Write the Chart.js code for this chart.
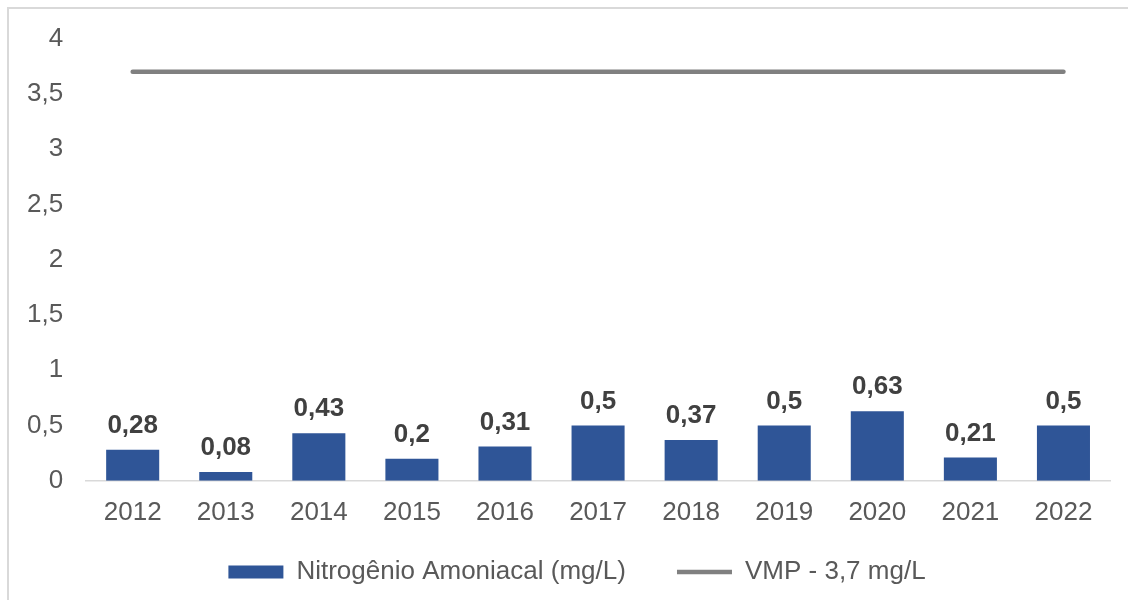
<!DOCTYPE html>
<html>
<head>
<meta charset="utf-8">
<script src="https://cdn.jsdelivr.net/npm/chart.js@4.4.1/dist/chart.umd.min.js"></script>
<style>
  html, body { margin: 0; padding: 0; background: #fff; }
  #wrap { position: relative; width: 1128px; height: 600px; overflow: hidden; }
  #frame { position: absolute; left: 7px; top: 7px; width: 1140px; height: 620px; border: 2px solid #d9d9d9; box-sizing: border-box; }
  canvas { position: absolute; left: 0; top: 0; }
</style>
</head>
<body>
<div id="wrap">
  <div id="frame"></div>
  <canvas id="chart" width="1128" height="600"></canvas>
</div>
<script>
const years = ['2012', '2013', '2014', '2015', '2016', '2017', '2018', '2019', '2020', '2021', '2022'];
const nitrogenio = [0.28, 0.08, 0.43, 0.2, 0.31, 0.5, 0.37, 0.5, 0.63, 0.21, 0.5];
const vmp = [3.7, 3.7, 3.7, 3.7, 3.7, 3.7, 3.7, 3.7, 3.7, 3.7, 3.7];
const seriesNames = ['Nitrogênio Amoniacal (mg/L)', 'VMP - 3,7 mg/L'];

const fmt = (v) => String(v).replace('.', ',');
const FONT = 'Liberation Sans, Arial, sans-serif';

// value labels above the bars
const barLabels = {
  id: 'barLabels',
  afterDatasetsDraw(chart) {
    const ctx = chart.ctx;
    const meta = chart.getDatasetMeta(0);
    ctx.save();
    ctx.font = 'bold 26px ' + FONT;
    ctx.fillStyle = '#404040';
    ctx.textAlign = 'center';
    ctx.textBaseline = 'alphabetic';
    meta.data.forEach((bar, i) => {
      ctx.fillText(fmt(nitrogenio[i]), bar.x, bar.y - 17);
    });
    ctx.restore();
  }
};

// nudge the legend a bit to the right, like the original
const legendShift = {
  id: 'legendShift',
  afterLayout(chart) {
    chart.legend.left += 20;
    chart.legend.right += 20;
  }
};

new Chart(document.getElementById('chart'), {
  data: {
    labels: years,
    datasets: [
      {
        type: 'bar',
        label: seriesNames[0],
        data: nitrogenio,
        backgroundColor: '#2f5597',
        categoryPercentage: 1,
        barPercentage: 0.57,
        pointStyle: 'rect'
      },
      {
        type: 'line',
        label: seriesNames[1],
        data: vmp,
        borderColor: '#808080',
        backgroundColor: '#808080',
        borderWidth: 4.5,
        borderCapStyle: 'round',
        pointRadius: 0,
        pointStyle: 'line'
      }
    ]
  },
  options: {
    responsive: false,
    animation: false,
    layout: { padding: { left: 4, right: 18, top: 37, bottom: 5 } },
    scales: {
      x: {
        grid: { display: false, drawTicks: false },
        border: { color: '#d9d9d9', width: 1.5 },
        ticks: { color: '#595959', font: { family: FONT, size: 26 }, padding: 16 }
      },
      y: {
        min: 0,
        max: 4,
        grid: { display: false, drawTicks: false },
        border: { display: false },
        ticks: {
          stepSize: 0.5,
          color: '#595959',
          font: { family: FONT, size: 26 },
          padding: 23,
          callback: (v) => fmt(v)
        }
      }
    },
    plugins: {
      tooltip: { enabled: false },
      legend: {
        position: 'bottom',
        labels: {
          usePointStyle: true,
          pointStyleWidth: 55,
          boxHeight: 13,
          padding: 15,
          color: '#595959',
          font: { family: FONT, size: 26 },
          generateLabels(chart) {
            const items = Chart.defaults.plugins.legend.labels.generateLabels(chart);
            // widen the gap after the first entry
            items[0].text = items[0].text + '     ';
            return items;
          }
        }
      }
    }
  },
  plugins: [barLabels, legendShift]
});
</script>
</body>
</html>
